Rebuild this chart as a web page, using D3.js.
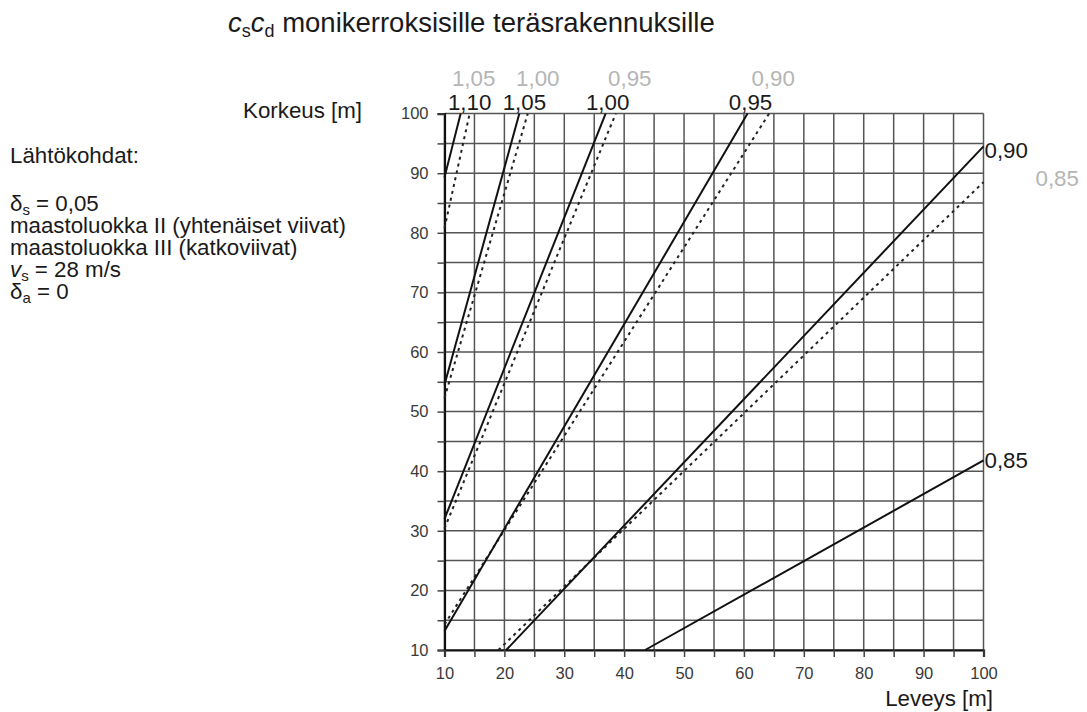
<!DOCTYPE html>
<html>
<head>
<meta charset="utf-8">
<script src="https://cdn.jsdelivr.net/npm/d3@7/dist/d3.min.js"></script>
<style>
  html, body { margin: 0; padding: 0; background: #fff; }
  svg { display: block; font-family: "Liberation Sans", Arial, Helvetica, sans-serif; }
</style>
</head>
<body>
<svg id="chart" width="1087" height="712"></svg>
<script>
// Axis ticks (labelled every 10 m, grid every 5 m)
const widthTicks  = [10, 20, 30, 40, 50, 60, 70, 80, 90, 100];
const heightTicks = [10, 20, 30, 40, 50, 60, 70, 80, 90, 100];
const gridSteps   = [10, 15, 20, 25, 30, 35, 40, 45, 50, 55, 60, 65, 70, 75, 80, 85, 90, 95, 100];

// Terrain category II (solid lines): cs·cd value, start point and end point [width m, height m]
const solidValues = ["1,10", "1,05", "1,00", "0,95", "0,90", "0,85"];
const solidStart  = [[10, 89.3], [10, 54.5], [10, 32.0], [10, 13.2], [20.3, 10], [43.5, 10]];
const solidEnd    = [[12.7, 100], [22.5, 100], [36.9, 100], [60.6, 100], [100, 94.5], [100, 41.8]];

// Terrain category III (dashed lines)
const dashedValues = ["1,05", "1,00", "0,95", "0,90", "0,85"];
const dashedStart  = [[10, 80.8], [10, 52.3], [10, 30.4], [10, 14.3], [19.0, 10]];
const dashedEnd    = [[14.2, 100], [23.9, 100], [38.6, 100], [64.2, 100], [100, 88.5]];

// Label offsets in pixels from each line's end point
const solidLabelNudge  = [[9, -4], [5, -4], [2, -4], [3, -4], [1, 12], [1, 8]];
const dashedLabelNudge = [[4, -28], [10, -28], [14, -28], [4, -28], [52, 4]];

const svg = d3.select("#chart");
const FONT_TXT = 22.3;

const x = d3.scaleLinear().domain([10, 100]).range([444.5, 983.5]);
const y = d3.scaleLinear().domain([10, 100]).range([650, 113.6]);

// Grid
const grid = svg.append("g").attr("stroke", "#555").attr("stroke-width", 1.5);
grid.selectAll("line.v").data(gridSteps).join("line")
  .attr("x1", d => x(d)).attr("x2", d => x(d))
  .attr("y1", y(10)).attr("y2", y(100));
grid.selectAll("line.h").data(gridSteps).join("line")
  .attr("x1", x(10)).attr("x2", x(100))
  .attr("y1", d => y(d)).attr("y2", d => y(d));

// Axes
const yAxis = d3.axisLeft(y).tickValues(gridSteps).tickSize(7).tickPadding(9)
  .tickFormat(d => heightTicks.includes(d) ? d : "");
const xAxis = d3.axisBottom(x).tickValues(gridSteps).tickSize(7).tickPadding(10)
  .tickFormat(d => widthTicks.includes(d) ? d : "");

const gy = svg.append("g").attr("transform", `translate(${x(10)},0)`).call(yAxis);
const gx = svg.append("g").attr("transform", `translate(0,${y(10)})`).call(xAxis);
[gx, gy].forEach(g => {
  g.select(".domain").attr("stroke", "#111").attr("stroke-width", 2.2);
  g.selectAll(".tick line").attr("stroke", "#444").attr("stroke-width", 1.5);
  g.selectAll(".tick text").attr("fill", "#3a3a3a").attr("font-size", 16.5)
    .attr("font-family", "'Liberation Sans', Arial, sans-serif");
});

// Curves
const line = d3.line().x(d => x(d[0])).y(d => y(d[1]));
const solidSeries  = solidValues.map((v, i) => ({ value: v, pts: [solidStart[i], solidEnd[i]] }));
const dashedSeries = dashedValues.map((v, i) => ({ value: v, pts: [dashedStart[i], dashedEnd[i]] }));

svg.append("g").selectAll("path").data(dashedSeries).join("path")
  .attr("d", d => line(d.pts))
  .attr("fill", "none").attr("stroke", "#222").attr("stroke-width", 2)
  .attr("stroke-dasharray", "3,4");

svg.append("g").selectAll("path").data(solidSeries).join("path")
  .attr("d", d => line(d.pts))
  .attr("fill", "none").attr("stroke", "#111").attr("stroke-width", 2);

// Curve labels
function addLabels(series, nudge, color) {
  svg.append("g").selectAll("text").data(series).join("text")
    .attr("x", (d, i) => x(d.pts[1][0]) + nudge[i][0])
    .attr("y", (d, i) => y(d.pts[1][1]) + nudge[i][1])
    .attr("text-anchor", d => d.pts[1][0] >= 100 ? "start" : "middle")
    .attr("font-size", FONT_TXT).attr("fill", color)
    .text(d => d.value);
}
addLabels(dashedSeries, dashedLabelNudge, "#b5b5b5");
addLabels(solidSeries, solidLabelNudge, "#1a1a1a");

// Axis titles
svg.append("text").attr("x", 362).attr("y", 118).attr("text-anchor", "end")
  .attr("font-size", FONT_TXT).attr("fill", "#1a1a1a").text("Korkeus [m]");
svg.append("text").attr("x", 993).attr("y", 706).attr("text-anchor", "end")
  .attr("font-size", FONT_TXT).attr("fill", "#1a1a1a").text("Leveys [m]");

// Title
const title = svg.append("text").attr("x", 228).attr("y", 32)
  .attr("font-size", 27.5).attr("fill", "#1a1a1a");
title.append("tspan").attr("font-style", "italic").text("c");
title.append("tspan").attr("font-size", 18).attr("dy", 5).text("s");
title.append("tspan").attr("font-style", "italic").attr("dy", -5).text("c");
title.append("tspan").attr("font-size", 18).attr("dy", 5).text("d");
title.append("tspan").attr("dy", -5).text(" monikerroksisille teräsrakennuksille");

// Assumptions block
const notes = svg.append("g").attr("font-size", FONT_TXT).attr("fill", "#1a1a1a");
notes.append("text").attr("x", 10).attr("y", 163).text("Lähtökohdat:");

function subLine(yPos, main, sub, rest, italic) {
  const t = notes.append("text").attr("x", 10).attr("y", yPos);
  t.append("tspan").attr("font-style", italic ? "italic" : null).text(main);
  t.append("tspan").attr("font-size", 15).attr("dy", 4).text(sub);
  t.append("tspan").attr("dy", -4).text(rest);
}
subLine(211, "δ", "s", " = 0,05", false);
notes.append("text").attr("x", 10).attr("y", 233).text("maastoluokka II (yhtenäiset viivat)");
notes.append("text").attr("x", 10).attr("y", 255).text("maastoluokka III (katkoviivat)");
subLine(277, "v", "s", " = 28 m/s", true);
subLine(299, "δ", "a", " = 0", false);
</script>
</body>
</html>
